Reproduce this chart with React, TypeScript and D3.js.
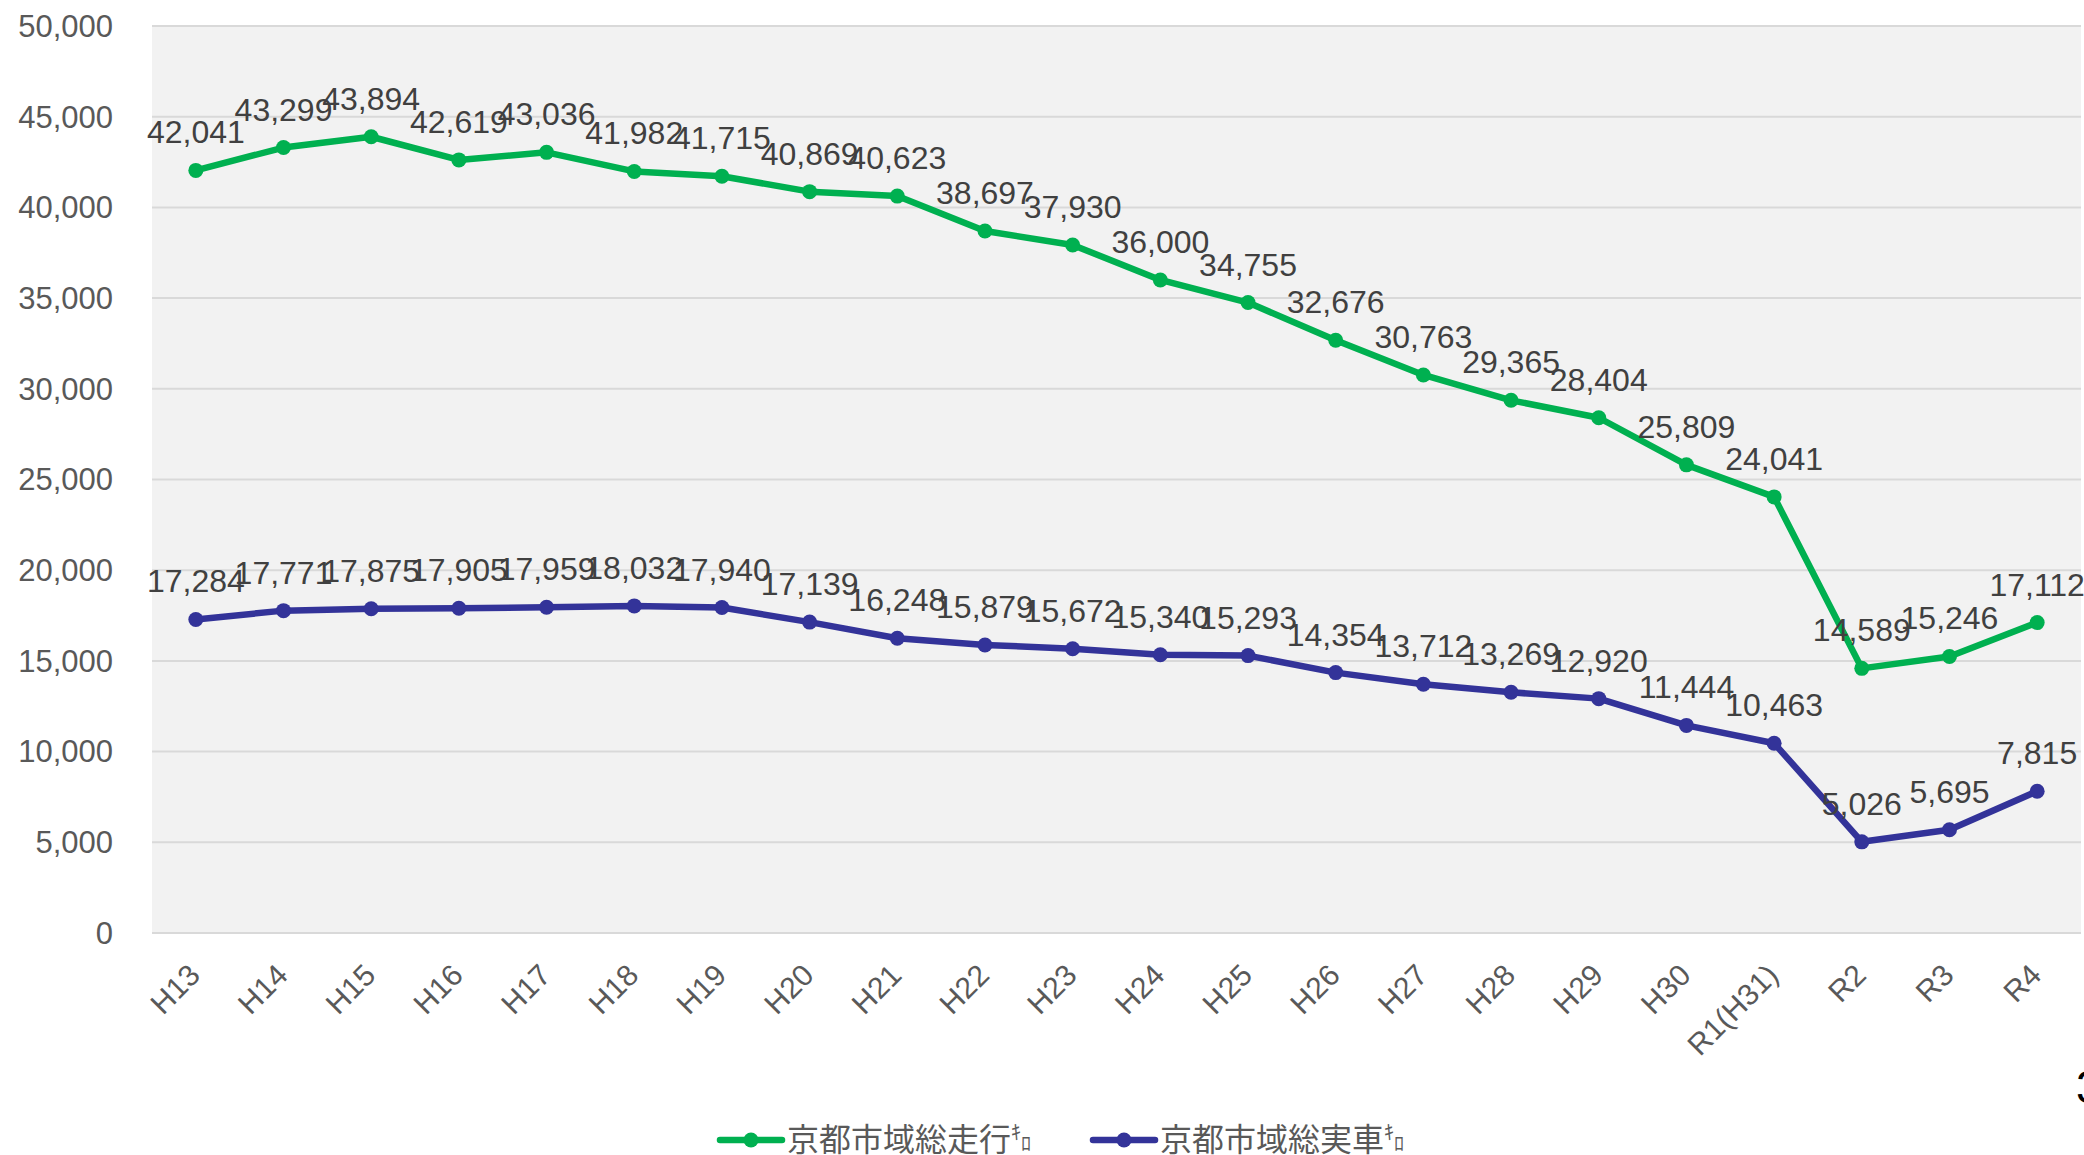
import React from "react";
import * as d3 from "d3";

const categories = [
  "H13", "H14", "H15", "H16", "H17", "H18", "H19", "H20", "H21", "H22", "H23",
  "H24", "H25", "H26", "H27", "H28", "H29", "H30", "R1(H31)", "R2", "R3", "R4",
];

const totalRunning = [
  42041, 43299, 43894, 42619, 43036, 41982, 41715, 40869, 40623, 38697, 37930,
  36000, 34755, 32676, 30763, 29365, 28404, 25809, 24041, 14589, 15246, 17112,
];

const totalActual = [
  17284, 17771, 17875, 17905, 17959, 18032, 17940, 17139, 16248, 15879, 15672,
  15340, 15293, 14354, 13712, 13269, 12920, 11444, 10463, 5026, 5695, 7815,
];

const yTicks = [0, 5000, 10000, 15000, 20000, 25000, 30000, 35000, 40000, 45000, 50000];

const seriesNames = ["京都市域総走行", "京都市域総実車"];
const seriesColors = ["#00b050", "#333399"];

const W = 2084;
const H = 1155;
const plot = { left: 152, right: 2081, top: 26, bottom: 933 };
const latin = "'Liberation Sans', Arial, sans-serif";
const cjk = "'Noto Sans CJK JP', 'Liberation Sans', sans-serif";

const App: React.FC = () => {
  const x = d3
    .scalePoint<string>()
    .domain(categories)
    .range([plot.left, plot.right])
    .padding(0.5);
  const y = d3.scaleLinear().domain([0, 50000]).range([plot.bottom, plot.top]);
  const fmt = d3.format(",");

  const line = d3
    .line<number>()
    .x((_, i) => x(categories[i]) as number)
    .y((d) => y(d));

  const series = [totalRunning, totalActual];

  return (
    <svg
      width={W}
      height={H}
      style={{ position: "fixed", left: 0, top: 0, background: "#fff" }}
    >
      <rect
        x={plot.left}
        y={plot.top}
        width={plot.right - plot.left}
        height={plot.bottom - plot.top}
        fill="#f2f2f2"
      />
      {yTicks.map((t) => (
        <g key={t}>
          <line
            x1={plot.left}
            x2={plot.right}
            y1={y(t)}
            y2={y(t)}
            stroke="#d9d9d9"
            strokeWidth={2}
          />
          <text
            x={113}
            y={y(t)}
            dy="0.35em"
            textAnchor="end"
            fontFamily={latin}
            fontSize={31}
            fill="#595959"
          >
            {fmt(t)}
          </text>
        </g>
      ))}

      {categories.map((c) => (
        <text
          key={c}
          transform={`translate(${(x(c) as number) + 6},${977}) rotate(-45)`}
          textAnchor="end"
          fontFamily={latin}
          fontSize={30}
          fill="#595959"
        >
          {c}
        </text>
      ))}

      {series.map((vals, si) => (
        <g key={si}>
          <path
            d={line(vals) || ""}
            fill="none"
            stroke={seriesColors[si]}
            strokeWidth={6.5}
            strokeLinejoin="round"
          />
          {vals.map((v, i) => (
            <circle
              key={i}
              cx={x(categories[i])}
              cy={y(v)}
              r={7.5}
              fill={seriesColors[si]}
            />
          ))}
        </g>
      ))}

      {series.map((vals, si) => (
        <g key={"l" + si}>
          {vals.map((v, i) => (
            <text
              key={i}
              x={x(categories[i])}
              y={y(v) - 27}
              textAnchor="middle"
              fontFamily={latin}
              fontSize={32}
              fill="#404040"
            >
              {fmt(v)}
            </text>
          ))}
        </g>
      ))}

      {seriesNames.map((name, si) => {
        const lx = si === 0 ? 720 : 1093;
        const ly = 1140;
        return (
          <g key={name}>
            <line
              x1={lx}
              x2={lx + 62}
              y1={ly}
              y2={ly}
              stroke={seriesColors[si]}
              strokeWidth={6.5}
              strokeLinecap="round"
            />
            <circle cx={lx + 31} cy={ly} r={7.5} fill={seriesColors[si]} />
            <text
              x={lx + 67}
              y={ly + 11}
              fontFamily={cjk}
              fontSize={32}
              fill="#595959"
            >
              {name}
              <tspan fontSize={20} dy={-11}>ｷ</tspan>
              <tspan fontSize={20} dy={11}>ﾛ</tspan>
            </text>
          </g>
        );
      })}

      <text x={2076} y={1103} fontFamily={latin} fontSize={46} fill="#000">
        3
      </text>
    </svg>
  );
};

export default App;
